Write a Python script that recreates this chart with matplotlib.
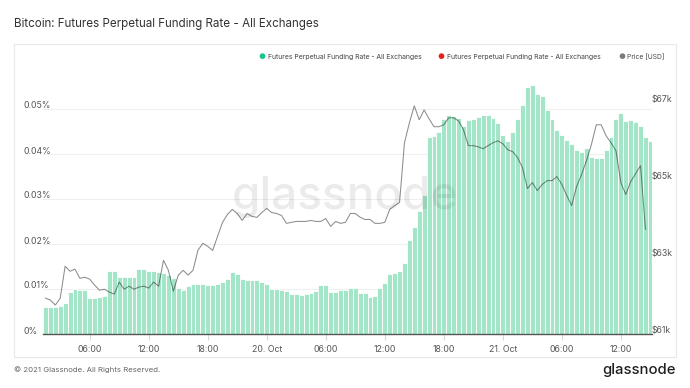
import matplotlib
matplotlib.use("Agg")
import matplotlib.pyplot as plt
import matplotlib.dates as mdates
import matplotlib.ticker as mticker
from matplotlib.patches import Rectangle
import numpy as np
import pandas as pd

# ---------------- data ----------------
title = "Bitcoin: Futures Perpetual Funding Rate - All Exchanges"
series_name = "Futures Perpetual Funding Rate - All Exchanges"
price_name = "Price [USD]"

# funding rate in %, 30-minute bars starting 2021-10-19 01:15
funding = [
    0.0059, 0.0059, 0.0058, 0.0061, 0.0067, 0.0092, 0.0100, 0.0097, 0.0096, 0.0080,
    0.0079, 0.0081, 0.0083, 0.0140, 0.0139, 0.0126, 0.0125, 0.0125, 0.0126, 0.0143,
    0.0143, 0.0138, 0.0138, 0.0137, 0.0135, 0.0129, 0.0123, 0.0102, 0.0097, 0.0105,
    0.0109, 0.0109, 0.0109, 0.0108, 0.0108, 0.0110, 0.0114, 0.0122, 0.0136, 0.0132,
    0.0121, 0.0120, 0.0119, 0.0118, 0.0114, 0.0109, 0.0098, 0.0098, 0.0097, 0.0095,
    0.0087, 0.0087, 0.0086, 0.0087, 0.0089, 0.0094, 0.0108, 0.0107, 0.0092, 0.0093,
    0.0097, 0.0097, 0.0102, 0.0102, 0.0090, 0.0090, 0.0082, 0.0083, 0.0102, 0.0112,
    0.0132, 0.0135, 0.0139, 0.0157, 0.0207, 0.0237, 0.0272, 0.0307, 0.0437, 0.0440,
    0.0447, 0.0477, 0.0485, 0.0483, 0.0478, 0.0462, 0.0474, 0.0477, 0.0482, 0.0485,
    0.0485, 0.0479, 0.0467, 0.0442, 0.0427, 0.0447, 0.0477, 0.0507, 0.0547, 0.0552,
    0.0532, 0.0527, 0.0497, 0.0477, 0.0452, 0.0442, 0.0429, 0.0422, 0.0407, 0.0403,
    0.0412, 0.0392, 0.0389, 0.0390, 0.0407, 0.0437, 0.0477, 0.0491, 0.0473, 0.0474,
    0.0470, 0.0462, 0.0437, 0.0427,
]

# BTC price in USD, same 30-minute grid
price = [
    61915, 61865, 61735, 61915, 62740, 62610, 62665, 62430, 62455, 62405,
    62250, 62120, 62145, 62070, 62020, 62330, 62145, 62225, 62145, 62200,
    62225, 62175, 62330, 62225, 62895, 62635, 62095, 62510, 62635, 62510,
    62635, 63150, 63335, 63255, 63150, 63515, 63875, 64080, 64210, 64105,
    63925, 64105, 64030, 64005, 64130, 64235, 64130, 64105, 64055, 63850,
    63875, 63900, 63900, 63900, 63925, 63900, 63900, 63975, 63770, 63900,
    63850, 63875, 64105, 64105, 64005, 63950, 63950, 63850, 63850, 63875,
    64210, 64310, 64390, 65935, 66450, 66890, 66530, 66785, 66555, 66350,
    66350, 66400, 66580, 66580, 66500, 66270, 65860, 65860, 65830, 65780,
    65860, 65935, 65985, 65910, 65755, 65705, 65550, 65290, 64750, 64905,
    64700, 64855, 64955, 64955, 65060, 64855, 64570, 64310, 64800, 65110,
    65470, 65885, 66400, 66400, 66115, 65935, 65730, 64905, 64595, 64930,
    65135, 65345, 63695,
]

left_ticks = [0.0, 0.01, 0.02, 0.03, 0.04, 0.05]
left_tick_labels = ["0%", "0.01%", "0.02%", "0.03%", "0.04%", "0.05%"]
right_ticks = [61000, 63000, 65000, 67000]
right_tick_labels = ["$61k", "$63k", "$65k", "$67k"]

# ---------------- figure ----------------
W, H = 690, 388
fig = plt.figure(figsize=(W / 100, H / 100), dpi=100)
fig.patch.set_facecolor("white")
FONT = ["Inter", "DejaVu Sans"]
plt.rcParams["font.family"] = FONT


def px(x, y):
    return x / W, 1 - y / H


# card
card = Rectangle(px(14, 357), (676 - 14) / W, (357 - 44) / H, transform=fig.transFigure,
                 facecolor="white", edgecolor="#e8e8e8", linewidth=0.8, zorder=-5)
fig.patches.append(card)

ax_l, ax_r, ax_top, ax_bot = 43, 652, 80, 333.5
ax = fig.add_axes([ax_l / W, (H - ax_bot) / H, (ax_r - ax_l) / W, (ax_bot - ax_top) / H])
ax.set_facecolor("none")

t0 = pd.Timestamp("2021-10-19 01:30")
times = pd.date_range(t0, periods=len(funding), freq="30min")
bar_w = 0.5 / 24

ax.bar(times, funding, width=bar_w, color="#a3e5c7", edgecolor="white", linewidth=0.6,
       align="center", zorder=2)

ax.set_ylim(0, (ax_bot - ax_top) / 4500)
ax.set_xlim(pd.Timestamp("2021-10-19 01:15"), pd.Timestamp("2021-10-21 15:10"))

ax.set_yticks(left_ticks)
ax.set_yticklabels(left_tick_labels)
for lab in ax.get_yticklabels():
    lab.set_ha("left")
    lab.set_va("baseline")
ax.tick_params(axis="y", length=0, pad=14.4, labelsize=6.3, labelcolor="#555555")
ax.grid(axis="y", color="#efefef", linewidth=0.8, zorder=0)
ax.set_axisbelow(True)

for s in ["top", "right", "left"]:
    ax.spines[s].set_visible(False)
ax.spines["bottom"].set_color("#555555")
ax.spines["bottom"].set_linewidth(1.0)
ax.spines["bottom"].set_zorder(5)

xticks = [pd.Timestamp("2021-10-19") + pd.Timedelta(hours=h) for h in range(6, 61, 6)]
ax.set_xticks(xticks)


def fmt(x, pos=None):
    d = mdates.num2date(x)
    if d.hour == 0 and d.minute == 0:
        return f"{d.day}. {d.strftime('%b')}"
    return d.strftime("%H:%M")


ax.xaxis.set_major_formatter(mticker.FuncFormatter(fmt))
ax.tick_params(axis="x", length=4, color="#d8d8d8", width=0.8, pad=4,
               labelsize=6.3, labelcolor="#555555")

ax2 = ax.twinx()
ax2.set_position(ax.get_position())
ptimes = times[: len(price)]
ax2.plot(ptimes, price, color="black", alpha=0.45, linewidth=0.75, zorder=3)
ax2.set_ylim(61000, 61000 + (ax_bot - ax_top) * 2000 / 77.3)
ax2.set_yticks(right_ticks)
ax2.set_yticklabels(right_tick_labels)
for lab in ax2.get_yticklabels():
    lab.set_va("baseline")
ax2.tick_params(axis="y", length=0, pad=0, labelsize=6.3, labelcolor="#555555")
for s in ["top", "right", "left", "bottom"]:
    ax2.spines[s].set_visible(False)
ax2.set_xlim(ax.get_xlim())

# ---------------- texts ----------------
fig.canvas.draw()
renderer = fig.canvas.get_renderer()


def fit(t, target_w):
    bb = t.get_window_extent(renderer)
    t.set_fontsize(t.get_fontsize() * target_w / bb.width)


tt = fig.text(*px(14, 24), title, ha="left", va="center", fontsize=10, color="#333333")
fit(tt, 307)

# legend
leg_items = [(262, 268, series_name, "#16c784", 154), (441, 447, series_name, "#e3201b", 154),
             (622, 627, price_name, "#7a7a7a", 37)]
for dx, tx, s, c, w in leg_items:
    fig.text(*px(dx, 57), "\u25CF", ha="center", va="center", fontsize=5.5, color=c)
    lt = fig.text(*px(tx, 57), s, ha="left", va="center", fontsize=6, color="#444444")
    fit(lt, w)

ft = fig.text(*px(14, 370), "\u00A9 2021 Glassnode. All Rights Reserved.", ha="left",
              va="center", fontsize=6, color="#666666")
fit(ft, 145)
lg = fig.text(*px(676, 370), "glassnode", ha="right", va="center", fontsize=12,
              color="#1f1f1f", fontweight="medium")
fit(lg, 73)

wm = fig.text(*px(345, 197), "glassnode", ha="center", va="center", fontsize=40,
              color="black", alpha=0.08, fontweight="medium", zorder=10)
fit(wm, 226)

fig.savefig("out.png", dpi=100, facecolor="white")
